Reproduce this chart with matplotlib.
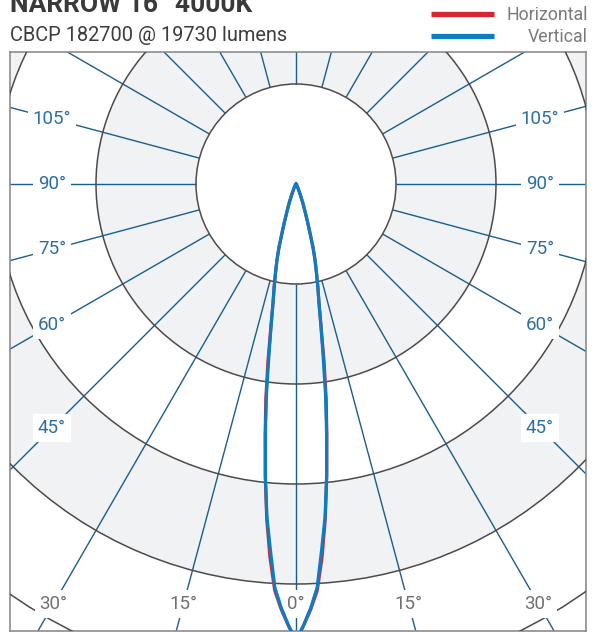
import numpy as np
import matplotlib
matplotlib.use("Agg")
import matplotlib.pyplot as plt
from matplotlib.lines import Line2D
from matplotlib.patches import Circle

angles = [0, 1, 2, 3, 4, 5, 6, 7, 8, 9, 10, 11, 12, 13, 14, 15, 16, 17, 18, 19, 20,
          22, 25, 30, 35, 40, 45, 60, 75, 90]
vertical_cd = [182700, 176400, 169600, 161600, 146800, 133600, 117200, 100400, 84800,
               69200, 57200, 48000, 42000, 36400, 31600, 26400, 20000, 15600, 12000,
               9600, 7600, 4400, 2000, 800, 400, 200, 100, 0, 0, 0]
horizontal_cd = [182700, 176600, 170200, 162800, 149600, 134400, 117600, 101200, 86800,
                 71600, 57600, 48000, 42000, 36400, 31600, 26400, 20000, 15600, 12000,
                 9600, 7600, 4400, 2000, 800, 400, 200, 100, 0, 0, 0]

rings = [40000, 80000, 120000, 160000, 200000]
spoke_angles = list(range(0, 181, 15))
side_labels = [105, 90, 75, 60, 45]
bottom_labels = [30, 15, 0, 15, 30]
bottom_label_angles = [-30, -15, 0, 15, 30]

title = "NARROW 16° 4000K"
subtitle = "CBCP 182700 @ 19730 lumens"
legend_names = ["Horizontal", "Vertical"]

BLUE_LINE = "#1b5e8c"
LABEL_BLUE = "#2f6f9f"
LABEL_GRAY = "#707070"
RING_COLOR = "#4f4a4a"
BAND_GRAY = "#f0f2f4"
RED = "#d9262e"
BLUE = "#0b7dc2"

plt.rcParams["font.family"] = ["Roboto", "DejaVu Sans"]

CD_PER_PX = 400
W, H = 605, 632
cx, cy = 296, 184  # polar centre in pixels

fig = plt.figure(figsize=(W / 100, H / 100), dpi=100)
left, right, top, bottom = 9.5, 586, 52, 631
ax = fig.add_axes([left / W, (H - bottom) / H, (right - left) / W, (bottom - top) / H])
ax.set_xlim((left - cx) * CD_PER_PX, (right - cx) * CD_PER_PX)
ax.set_ylim(-(bottom - cy) * CD_PER_PX, (cy - top) * CD_PER_PX)
ax.set_xticks([])
ax.set_yticks([])
for s in ax.spines.values():
    s.set_color("#8c8c8c")
    s.set_linewidth(1.2)

# alternating bands
fills = ["white", BAND_GRAY, "white", BAND_GRAY, "white"]
for r, c in zip(rings[::-1], fills):
    ax.add_patch(Circle((0, 0), r, facecolor=c, edgecolor="none", zorder=1))
for r in rings:
    ax.add_patch(Circle((0, 0), r, facecolor="none", edgecolor=RING_COLOR, lw=1.1, zorder=3))

# spokes
r_out = 400000
for a in spoke_angles:
    for sgn in ([1] if a in (0, 180) else [-1, 1]):
        t = np.radians(sgn * a)
        ax.plot([rings[0] * np.sin(t), r_out * np.sin(t)],
                [-rings[0] * np.cos(t), -r_out * np.cos(t)],
                color=BLUE_LINE, lw=1.0, zorder=2, solid_capstyle="butt")

# angle labels
box = dict(boxstyle="square,pad=0.25", facecolor="white", edgecolor="none")
d_side = 244 * CD_PER_PX
for a in side_labels:
    t = np.radians(a)
    y = -d_side / np.tan(t) if a != 90 else 0
    for sgn in (-1, 1):
        ax.text(sgn * d_side, y, f"{a}°", color=LABEL_BLUE, fontsize=13.5,
                ha="center", va="center", bbox=box, zorder=4)
d_bottom = 420 * CD_PER_PX
for lab, a in zip(bottom_labels, bottom_label_angles):
    x = d_bottom * np.tan(np.radians(a))
    ax.text(x, -d_bottom, f"{lab}°", color=LABEL_GRAY, fontsize=13.5,
            ha="center", va="center", bbox=box, zorder=4)

# beam curves, mirrored about nadir
ang = np.array(angles, dtype=float)
full_ang = np.radians(np.concatenate([-ang[::-1], ang[1:]]))
for vals, col in [(horizontal_cd, RED), (vertical_cd, BLUE)]:
    v = np.array(vals, dtype=float)
    full = np.concatenate([v[::-1], v[1:]])
    ax.plot(full * np.sin(full_ang), -full * np.cos(full_ang), color=col, lw=2.3,
            zorder=5, solid_joinstyle="round")

# titles
fig.text(10 / W, 1 - 12.5 / H, title, fontsize=19, fontweight="bold",
         color="#3a3a3a", ha="left", va="baseline")
fig.text(10 / W, 1 - 41 / H, subtitle, fontsize=14.4, color="#3d3d3d",
         ha="left", va="baseline")

# legend
for name, col, yy in zip(legend_names, [RED, BLUE], [14, 35.5]):
    fig.add_artist(Line2D([431 / W, 494 / W], [1 - yy / H, 1 - yy / H],
                          transform=fig.transFigure, color=col, lw=3.8,
                          solid_capstyle="butt"))
    fig.text(588 / W, 1 - (yy + 1) / H, name, fontsize=12.8, color="#7a7a7a",
             ha="right", va="center")

fig.savefig("out.png", dpi=100)
